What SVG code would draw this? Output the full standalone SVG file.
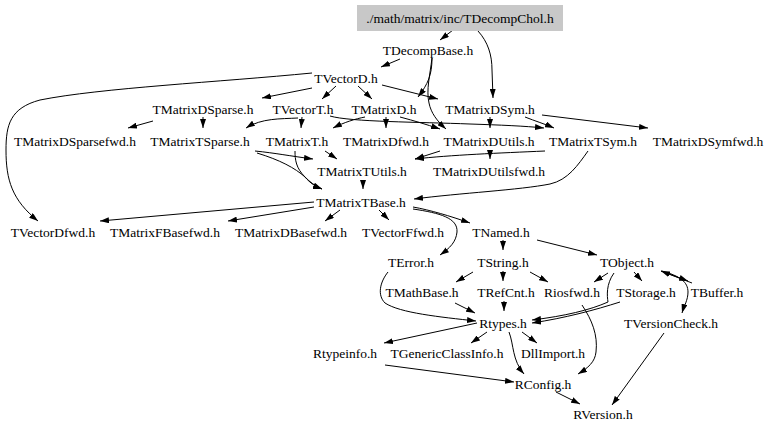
<svg xmlns="http://www.w3.org/2000/svg" width="779" height="432" viewBox="0 0 779 432">
<style>
text{font-family:"Liberation Serif","Times New Roman",serif;font-size:13.5px;fill:#000;text-anchor:middle}
.e path{fill:none;stroke:#000;stroke-width:1;marker-end:url(#a)}
</style>
<defs>
<marker id="a" markerWidth="9" markerHeight="6" refX="9" refY="3" orient="auto" markerUnits="userSpaceOnUse"><path d="M0,0 L9,3 L0,6 z" fill="#000"/></marker>
</defs>
<rect width="779" height="432" fill="#fff"/>
<g class="e" id="edges">
<path d="M453,30 L440,40"/>
<path d="M478,31 C488,42 492,55 492,70 L493,98"/>
<path d="M400,59 L381,67"/>
<path d="M432,58 C432,75 428,84 418,97"/>
<path d="M432,58 C430,75 426,90 429,103 C431,113 437,121 446,129"/>
<path d="M312,88 L262,98"/>
<path d="M336,86 L322,99"/>
<path d="M358,86 L372,99"/>
<path d="M382,85 L438,99"/>
<path d="M312,73 C220,82 100,88 40,100 C10,108 6,125 6,150 C6,180 12,200 38,221"/>
<path d="M153,121 L128,128"/>
<path d="M203,117 L203,128"/>
<path d="M302,117 L301,128"/>
<path d="M298,118 C280,119 262,118 246,128"/>
<path d="M330,116 C350,122 420,122 470,124 C500,125 525,126 544,128"/>
<path d="M365,117 C355,119 345,122 333,128"/>
<path d="M386,117 L386,128"/>
<path d="M400,117 C415,121 425,124 440,129"/>
<path d="M490,117 L490,128"/>
<path d="M525,117 C535,121 545,124 554,128"/>
<path d="M542,115 L648,128"/>
<path d="M255,151 C275,153 290,156 313,159"/>
<path d="M257,153 C280,160 295,168 305,177 C310,182 315,186 322,189"/>
<path d="M295,151 C295,160 296,168 305,177 C310,183 316,187 322,189"/>
<path d="M325,151 L337,159"/>
<path d="M545,151 C500,153 450,155 415,159"/>
<path d="M440,151 L415,159"/>
<path d="M490,150 L490,159"/>
<path d="M588,151 C578,165 568,180 550,184 C520,190 460,193 414,199"/>
<path d="M363,180 L363,189"/>
<path d="M314,202 L100,221"/>
<path d="M314,207 L228,221"/>
<path d="M340,210 L325,221"/>
<path d="M379,210 L389,220"/>
<path d="M413,207 C430,210 450,216 470,223"/>
<path d="M413,209 C440,213 458,218 457,232 C456,242 450,248 440,255"/>
<path d="M503,240 L503,250"/>
<path d="M537,240 L597,255"/>
<path d="M473,272 L456,282"/>
<path d="M503,271 L503,281"/>
<path d="M530,272 L548,282"/>
<path d="M608,273 L594,282"/>
<path d="M634,272 L642,281"/>
<path d="M614,273 C606,284 607,296 608,302 C590,310 565,316 532,320"/>
<path d="M620,302 C595,310 565,318 532,323"/>
<path d="M661,271 L688,281"/>
<path d="M692,283 L661,271"/>
<path d="M662,271 C680,276 688,282 688,292 C688,300 684,306 682,313"/>
<path d="M455,303 L475,313"/>
<path d="M504,301 L504,311"/>
<path d="M388,272 C380,282 377,295 385,303 C400,313 440,317 476,321"/>
<path d="M582,305 C592,320 598,335 596,352 C595,362 588,368 578,374"/>
<path d="M477,323 L384,343"/>
<path d="M487,332 L471,343"/>
<path d="M522,332 L537,343"/>
<path d="M509,332 C514,345 512,360 524,374"/>
<path d="M385,365 L514,382"/>
<path d="M556,392 L580,404"/>
<path d="M664,333 L612,405"/>
</g>
<g id="n_TDecompChol"><rect x="357" y="5" width="206" height="26" fill="#c8c8c8"/><text x="460" y="23">./math/matrix/inc/TDecompChol.h</text></g>
<g id="n_TDecompBase"><text x="428" y="55">TDecompBase.h</text></g>
<g id="n_TVectorD"><text x="346" y="83">TVectorD.h</text></g>
<g id="n_TMatrixDSparse"><text x="203" y="114">TMatrixDSparse.h</text></g>
<g id="n_TVectorT"><text x="303" y="114">TVectorT.h</text></g>
<g id="n_TMatrixD"><text x="384" y="114">TMatrixD.h</text></g>
<g id="n_TMatrixDSym"><text x="490" y="114">TMatrixDSym.h</text></g>
<g id="n_TMatrixDSparsefwd"><text x="75" y="146">TMatrixDSparsefwd.h</text></g>
<g id="n_TMatrixTSparse"><text x="200" y="146">TMatrixTSparse.h</text></g>
<g id="n_TMatrixT"><text x="297" y="146">TMatrixT.h</text></g>
<g id="n_TMatrixDfwd"><text x="386" y="146">TMatrixDfwd.h</text></g>
<g id="n_TMatrixDUtils"><text x="489" y="146">TMatrixDUtils.h</text></g>
<g id="n_TMatrixTSym"><text x="593" y="146">TMatrixTSym.h</text></g>
<g id="n_TMatrixDSymfwd"><text x="708" y="146">TMatrixDSymfwd.h</text></g>
<g id="n_TMatrixTUtils"><text x="362" y="176">TMatrixTUtils.h</text></g>
<g id="n_TMatrixDUtilsfwd"><text x="489" y="176">TMatrixDUtilsfwd.h</text></g>
<g id="n_TMatrixTBase"><text x="361" y="207">TMatrixTBase.h</text></g>
<g id="n_TVectorDfwd"><text x="53" y="237">TVectorDfwd.h</text></g>
<g id="n_TMatrixFBasefwd"><text x="165" y="237">TMatrixFBasefwd.h</text></g>
<g id="n_TMatrixDBasefwd"><text x="291" y="237">TMatrixDBasefwd.h</text></g>
<g id="n_TVectorFfwd"><text x="403" y="237">TVectorFfwd.h</text></g>
<g id="n_TNamed"><text x="501" y="237">TNamed.h</text></g>
<g id="n_TError"><text x="411" y="267">TError.h</text></g>
<g id="n_TString"><text x="503" y="267">TString.h</text></g>
<g id="n_TObject"><text x="627" y="267">TObject.h</text></g>
<g id="n_TMathBase"><text x="422" y="297">TMathBase.h</text></g>
<g id="n_TRefCnt"><text x="506" y="297">TRefCnt.h</text></g>
<g id="n_Riosfwd"><text x="572" y="297">Riosfwd.h</text></g>
<g id="n_TStorage"><text x="646" y="297">TStorage.h</text></g>
<g id="n_TBuffer"><text x="717" y="297">TBuffer.h</text></g>
<g id="n_Rtypes"><text x="503" y="328">Rtypes.h</text></g>
<g id="n_TVersionCheck"><text x="671" y="328">TVersionCheck.h</text></g>
<g id="n_Rtypeinfo"><text x="345" y="358">Rtypeinfo.h</text></g>
<g id="n_TGenericClassInfo"><text x="447" y="358">TGenericClassInfo.h</text></g>
<g id="n_DllImport"><text x="553" y="358">DllImport.h</text></g>
<g id="n_RConfig"><text x="543" y="389">RConfig.h</text></g>
<g id="n_RVersion"><text x="603" y="419">RVersion.h</text></g>
</svg>
